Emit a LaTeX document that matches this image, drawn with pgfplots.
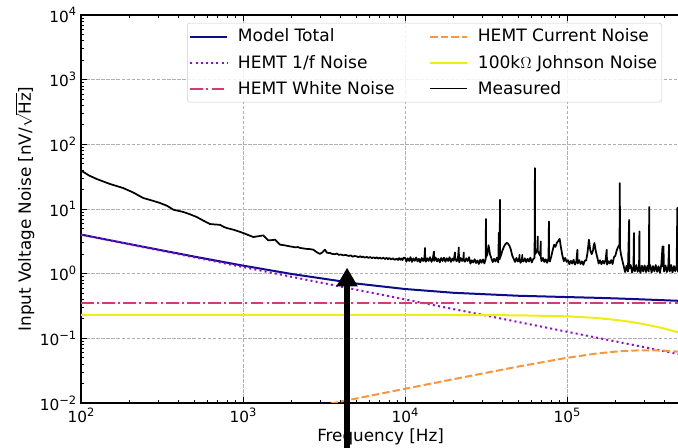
\documentclass[border=0pt]{standalone}
\usepackage{fontspec}
\setmainfont{DejaVu Sans}
\usepackage{pgfplots}
\pgfplotsset{compat=1.18}
\usetikzlibrary{arrows.meta}
\definecolor{cTotal}{RGB}{12,12,140}
\definecolor{cOneF}{RGB}{148,10,210}
\definecolor{cWhite}{RGB}{214,58,112}
\definecolor{cCur}{RGB}{250,150,60}
\definecolor{cJ}{RGB}{238,238,20}
\definecolor{cGrid}{RGB}{176,176,176}
\newcommand{\tl}[1]{10\raisebox{4.6pt}{\fontsize{8.6}{9}\selectfont #1}}
\begin{document}
\begin{tikzpicture}[font=\fontsize{12.6}{15}\selectfont]
\path[use as bounding box] (-60.75pt,-33.75pt) rectangle (447.75pt,302.25pt);
\clip (-60.75pt,-33.75pt) rectangle (447.75pt,302.25pt);
\begin{axis}[
  at={(0pt,0pt)}, anchor=south west,
  scale only axis,
  width=449.4pt, height=291pt,
  xmode=log, ymode=log,
  xmin=100, xmax=500000,
  ymin=0.01, ymax=10000,
  xtick={100,1000,10000,100000},
  xticklabels={\tl{2},\tl{3},\tl{4},\tl{5}},
  minor xtick={200,300,400,500,600,700,800,900,2000,3000,4000,5000,6000,7000,8000,9000,20000,30000,40000,50000,60000,70000,80000,90000,200000,300000,400000},
  ytick={0.01,0.1,1,10,100,1000,10000},
  yticklabels={\tl{−2},\tl{−1},\tl{0},\tl{1},\tl{2},\tl{3},\tl{4}},
  minor ytick={0.02,0.03,0.04,0.05,0.06,0.07,0.08,0.09,0.2,0.3,0.4,0.5,0.6,0.7,0.8,0.9,2,3,4,5,6,7,8,9,20,30,40,50,60,70,80,90,200,300,400,500,600,700,800,900,2000,3000,4000,5000,6000,7000,8000,9000},
  ytick pos=left,
  tick align=inside,
  major tick length=4.4pt,
  minor tick length=2.6pt,
  every tick/.style={black, line width=0.6pt},
  tick label style={font=\fontsize{11.5}{13}\selectfont},
  grid=major,
  major grid style={cGrid, line width=0.6pt, dash pattern=on 2.6pt off 1.2pt},
  axis line style={line width=0.8pt},
  xlabel={Frequency [Hz]},
  ylabel={Input Voltage Noise [nV/$\sqrt{\mbox{Hz}}$]},
  every axis x label/.style={at={(axis description cs:0.5,-0.0876)}, anchor=center},
  every axis y label/.style={at={(axis description cs:-0.0935,0.5)}, anchor=center, rotate=90},
  label style={font=\fontsize{12.6}{15}\selectfont},
  legend columns=2,
  legend cell align=left,
  legend style={at={(0.177,0.98)}, anchor=north west, draw=black!20, fill=white, fill opacity=0.85, text opacity=1, rounded corners=2pt, font=\fontsize{12.8}{15}\selectfont, inner xsep=1.5pt, inner ysep=2.5pt, row sep=4.3pt, /tikz/every odd column/.append style={column sep=5.5pt}, /tikz/every even column/.append style={column sep=24pt}},
  legend image code/.code={\draw[#1] (0pt,0pt) -- (27.5pt,0pt);},
]
% Model total
\addplot[forget plot, cTotal, line width=1.5pt] coordinates {
(100,4.022) (200,2.859) (500,1.837) (1000,1.332) (2000,0.988) (5000,0.704) (10000,0.579) (20000,0.506) (50000,0.4554) (100000,0.4347) (150000,0.4236) (200000,0.4143) (250000,0.4063) (300000,0.3991) (350000,0.3932) (400000,0.3880) (450000,0.3835) (500000,0.3797)};
% HEMT 1/f
\addplot[forget plot, cOneF, line width=1.5pt, dash pattern=on 1.5pt off 2.4pt] coordinates {
(100,4.0) (1000,1.265) (10000,0.4) (100000,0.1265) (500000,0.0566)};
% HEMT white
\addplot[forget plot, cWhite, line width=1.5pt, dash pattern=on 9.6pt off 2.4pt on 1.5pt off 2.4pt] coordinates {
(100,0.35) (500000,0.35)};
% HEMT current
\addplot[forget plot, cCur, line width=1.5pt, dash pattern=on 5.5pt off 2.4pt] coordinates {
(3000,0.0091) (5000,0.01174) (10000,0.0166) (20000,0.0234) (50000,0.0366) (100000,0.0500) (150000,0.0579) (200000,0.0624) (250000,0.0646) (300000,0.0653) (350000,0.0651) (400000,0.0643) (450000,0.0632) (500000,0.0619)};
% Johnson
\addplot[forget plot, cJ, line width=1.5pt] coordinates {
(100,0.23) (10000,0.23) (20000,0.2295) (50000,0.227) (100000,0.219) (150000,0.207) (200000,0.193) (250000,0.179) (300000,0.165) (350000,0.1525) (400000,0.141) (450000,0.1305) (500000,0.121)};
% Measured
\addplot[forget plot, black, line width=1.3pt, line join=round] coordinates {
(100,39) (103,37.7) (112,33) (125,29.1) (150,24.5) (182,21.1) (210,18) (242,14.8) (275,13.5) (307,12.4) (340,11.2) (372,9.75) (428,9.0) (470,8.3) (518,7.52) (570,6.6) (625,5.86) (680,5.75) (721,5.7) (760,5.3) (793,5.08) (871,4.79) (940,4.5) (1004,4.25) (1080,3.95) (1158,3.69) (1250,3.8) (1334,3.91) (1432,3.27) (1500,3.3) (1576,3.35) (1692,2.81) (1800,2.75) (1950,2.64) (2030,2.60) (2100,2.55) (2180,2.58) (2250,2.50) (2350,2.46) (2450,2.42) (2580,2.40) (2717,2.35) (2850,2.15) (2988,2.02) (3100,2.15) (3207,2.35) (3300,2.1) (3443,2.09) (3550,2.02) (3700,2.0) (3800,2.05) (3900,1.95) (4020,1.98) (4160,1.92) (4300,1.95) (4500,1.88) (4620,1.92) (4750,1.83) (4880,1.88) (5030,1.85) (5160,1.80) (5300,1.86) (5400,1.79) (5500,1.84) (5650,1.77) (5800,1.82) (5950,1.75) (6080,1.81) (6250,1.74) (6400,1.79) (6550,1.72) (6700,1.79) (6850,1.71) (7000,1.77) (7170,1.70) (7350,1.77) (7520,1.68) (7700,1.76) (7850,1.67) (8000,1.75) (8200,1.66) (8400,1.72) (8650,1.64) (8890,1.71) (9050,1.63) (9200,1.74) (9350,1.64) (9500,1.72) (9650,1.62) (9800,1.76)
(10000,1.77) (10200,1.53) (10400,1.73) (10610,1.57) (10820,1.80) (11040,1.52) (11260,1.72) (11490,1.58) (11720,1.78) (11950,1.55) (12190,1.70) (12430,1.50) (12680,1.75) (12940,1.57) (13190,1.77) (13300,2.5) (13330,1.6) (13460,1.53) (13730,1.73) (14000,1.57) (14280,1.80) (14570,1.52) (14860,1.72) (15100,2.2) (15130,1.6) (15160,1.58) (15460,1.78) (15770,1.55) (16080,1.70) (16410,1.50) (16730,1.75) (17070,1.57) (17410,1.77) (17760,1.53) (18110,1.73) (18480,1.57) (18850,1.80) (19220,1.52) (19610,1.72) (20000,1.58) (20350,2.13) (20400,1.78) (20810,1.55) (21220,1.70) (21500,2.55) (21530,1.6) (21650,1.50) (22080,1.75) (22520,1.57) (22970,1.77) (23050,2.13) (23080,1.6) (23430,1.53) (23900,1.73) (24380,1.57) (24870,1.80)
(25360,1.43) (25870,1.61) (26390,1.49) (26920,1.67) (27460,1.46) (28010,1.60) (28570,1.41) (29140,1.64) (29720,1.47) (30310,1.66) (30920,1.44) (31500,1.7) (31600,7.0) (31650,1.8) (32170,1.95) (32810,2.75) (33470,2.0)
(34140,1.73) (34820,1.51) (35520,1.70) (36230,1.54) (36950,1.77) (37690,1.49) (37950,4.3) (38000,1.7) (38450,1.68) (38580,13.9) (38620,1.75) (39220,1.95) (40000,2.3) (40800,2.6) (41620,2.85) (42450,3.0) (43300,2.9) (44160,2.7) (45050,2.35) (45950,1.9) (46870,1.70) (47800,1.52) (48760,1.75) (49740,1.54) (50730,1.72) (51000,1.95) (51030,1.6) (51740,1.47) (52780,1.72) (53000,1.95) (53030,1.6) (53830,1.54) (54910,1.73) (56010,1.51) (57130,1.70) (58270,1.54) (59440,1.77) (60630,1.49) (61840,1.68) (63080,1.75) (63400,43) (63440,2.0) (64340,2.1) (65630,2.4) (66000,3.77) (66050,2.2) (66940,2.1) (68280,1.9) (68950,3.16) (69000,1.8) (69650,1.56) (71040,1.75) (72460,1.52) (73910,1.67) (75390,1.47) (76900,1.72) (77400,6.4) (77440,1.75) (78440,1.54) (80000,1.85) (81600,2.3) (83240,2.8) (84900,2.6) (86600,3.0) (88330,3.2) (90100,3.45) (91900,2.5) (93740,1.9) (95610,1.56) (97520,1.75) (99470,1.52)
(101500,1.61) (103500,1.40) (105600,1.58) (107700,1.43) (109800,1.64) (112000,1.38) (114300,1.56) (116000,2.35) (116050,1.5) (116600,1.44) (118900,1.62) (121300,1.41) (123700,1.55) (126200,1.37) (128700,1.59) (131300,1.6) (133900,2.1) (136600,3.35) (139300,2.3) (142100,2.0) (144900,2.3) (146000,2.64) (147800,2.98) (150800,2.2) (153800,1.8) (156900,1.43) (160000,1.61) (163200,1.40) (166500,1.58) (169800,1.43) (173200,1.64) (176000,2.35) (176700,1.38) (180200,1.56) (183800,1.44) (187500,1.62) (191200,1.41) (195100,1.8) (199000,1.9) (202900,2.3) (207000,2.6) (211100,2.8) (212000,25.2) (212400,2.5)
(215400,2.0) (219700,1.6) (224100,1.3) (228500,1.06) (233100,1.32) (237800,1.08) (242000,6.8) (242400,1.2) (247400,1.36) (252300,1.04) (257400,1.31) (259000,4.26) (259400,1.2) (262500,1.09) (267800,1.36) (273100,1.07) (278600,1.30) (280000,4.5) (280400,1.15) (284200,1.03) (289900,1.33) (295700,1.08) (301600,1.34) (307600,1.06) (313700,1.32) (320000,1.08) (322000,10.7) (322400,1.2) (326400,1.36) (333000,1.04) (339600,1.31) (346400,1.09) (353300,1.36) (360400,1.07) (367600,1.30) (375000,1.03) (382500,1.40) (389000,2.64) (389400,1.3) (390100,1.4) (395000,2.64) (395400,1.3) (397900,1.08) (405900,1.34) (414000,1.06) (422300,1.32) (427000,2.8) (427400,1.2) (430700,1.08) (439300,1.36) (448100,1.04) (457100,1.31) (466200,1.09) (475500,1.36) (480000,10.4) (480400,1.2) (485000,1.07) (494700,1.30) (500000,1.1)};
% legend (matplotlib column order)
\addlegendimage{cTotal, line width=1.5pt}
\addlegendentry{Model Total}
\addlegendimage{cCur, line width=1.5pt, dash pattern=on 5.5pt off 2.4pt}
\addlegendentry{HEMT Current Noise}
\addlegendimage{cOneF, line width=1.5pt, dash pattern=on 1.5pt off 2.4pt}
\addlegendentry{HEMT 1/f Noise}
\addlegendimage{cJ, line width=1.5pt}
\addlegendentry{100k$\Omega$ Johnson Noise}
\addlegendimage{cWhite, line width=1.5pt, dash pattern=on 9.6pt off 2.4pt on 1.5pt off 2.4pt}
\addlegendentry{HEMT White Noise}
\addlegendimage{black, line width=1.1pt}
\addlegendentry{Measured}
\coordinate (arrA) at (axis cs:4390,0.001);
\coordinate (arrB) at (axis cs:4390,1.24);
\end{axis}
\draw[line width=4.4pt, -{Triangle[width=15pt,length=14pt]}] (arrA) -- (arrB);
\end{tikzpicture}
\end{document}
